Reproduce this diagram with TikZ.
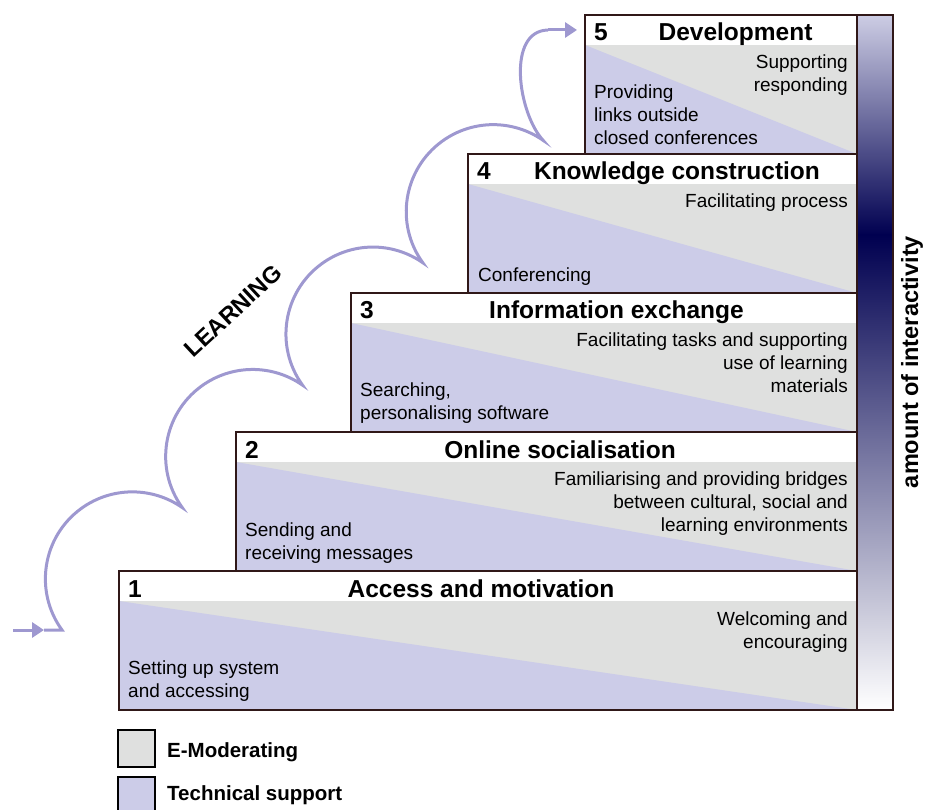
\documentclass[tikz,border=0pt]{standalone}
\usepackage{fontspec}
\setmainfont{Liberation Sans}
\usetikzlibrary{arrows.meta}
\definecolor{moder}{RGB}{223,224,223}
\definecolor{techsup}{RGB}{204,204,232}
\definecolor{frame}{RGB}{48,24,24}
\definecolor{learn}{RGB}{158,152,208}
\definecolor{bartop}{RGB}{205,205,228}
\definecolor{barmid}{RGB}{0,0,80}

\begin{document}
\begin{tikzpicture}[x=1pt,y=-1pt,
  stepframe/.style={draw=frame,line width=2pt},
  steptitle/.style={font=\bfseries\fontsize{24.5}{29}\selectfont,inner sep=0pt,anchor=base},
  stepnum/.style={font=\bfseries\fontsize{24.5}{29}\selectfont,inner sep=0pt,anchor=base west},
  righttext/.style={font=\fontsize{19}{23}\selectfont,align=right,inner sep=0pt,anchor=base east},
  lefttext/.style={font=\fontsize{19}{23}\selectfont,align=left,inner sep=0pt,anchor=base west},
  learnline/.style={draw=learn,line width=3pt},
  learntip/.style={-{Triangle[length=12pt,width=15pt]}},
  legendbox/.style={draw=black,line width=2.5pt},
  legendtext/.style={font=\bfseries\fontsize{20.5}{24}\selectfont,inner sep=0pt,anchor=base west}]
  \useasboundingbox (0,0) rectangle (929,810);

  % step 1
  \fill[moder] (119,601) rectangle (857,710);
  \fill[techsup] (119,601) -- (857,710) -- (119,710) -- cycle;
  \draw[stepframe] (119,571) rectangle (857,710);
  \node[stepnum] (n1) at (128,597) {1};
  \node[steptitle] (t1) at (481,597) {Access and motivation};
  \node[righttext] (r1) at (848,648.5) {Welcoming and\\encouraging};
  \node[lefttext] (l1) at (128,697.5) {Setting up system\\and accessing};

  % step 2
  \fill[moder] (236,462) rectangle (857,571);
  \fill[techsup] (236,462) -- (857,571) -- (236,571) -- cycle;
  \draw[stepframe] (236,432) rectangle (857,571);
  \node[stepnum] (n2) at (245,458) {2};
  \node[steptitle] (t2) at (560,458) {Online socialisation};
  \node[righttext] (r2) at (848,531.5) {Familiarising and providing bridges\\between cultural, social and\\learning environments};
  \node[lefttext] (l2) at (245,559.5) {Sending and\\receiving messages};

  % step 3
  \fill[moder] (351,323) rectangle (857,432);
  \fill[techsup] (351,323) -- (857,432) -- (351,432) -- cycle;
  \draw[stepframe] (351,293) rectangle (857,432);
  \node[stepnum] (n3) at (360,319) {3};
  \node[steptitle] (t3) at (616.5,319) {Information exchange};
  \node[righttext] (r3) at (848,392.5) {Facilitating tasks and supporting\\use of learning\\materials};
  \node[lefttext] (l3) at (360,419.5) {Searching,\\personalising software};

  % step 4
  \fill[moder] (468,184) rectangle (857,293);
  \fill[techsup] (468,184) -- (857,293) -- (468,293) -- cycle;
  \draw[stepframe] (468,154) rectangle (857,293);
  \node[stepnum] (n4) at (477,180) {4};
  \node[steptitle] (t4) at (677,180) {Knowledge construction};
  \node[righttext] (r4) at (848,207.5) {Facilitating process};
  \node[lefttext] (l4) at (478,281.5) {Conferencing};

  % step 5
  \fill[moder] (585,45) rectangle (857,154);
  \fill[techsup] (585,45) -- (857,154) -- (585,154) -- cycle;
  \draw[stepframe] (585,15) rectangle (857,154);
  \node[stepnum] (n5) at (594,41) {5};
  \node[steptitle] (t5) at (735.5,41) {Development};
  \node[righttext] (r5) at (848,91.5) {Supporting\\responding};
  \node[lefttext] (l5) at (594,144.5) {Providing\\links outside\\closed conferences};

  % amount of interactivity
  \shade[top color=bartop,bottom color=barmid] (857,15) rectangle (893,235);
  \shade[top color=barmid,bottom color=white] (857,235) rectangle (893,710);
  \draw[stepframe] (857,15) rectangle (893,710);
  \node[font=\bfseries\fontsize{23.5}{28}\selectfont,rotate=90] (amount) at (912,362) {amount of interactivity};

  % learning steps
  \coordinate (s0) at (13,630);
  \coordinate (s1) at (44,630);
  \coordinate (c0) at (62,630);
  \coordinate (e1) at (548,30);
  \coordinate (e2) at (577,30);
  \draw[learnline,learntip] (s0) -- (s1);
  \draw[learnline] (s1) -- (c0)
    arc[start angle=216,end angle=55,radius=87pt]
    arc[start angle=216,end angle=55,radius=87pt]
    arc[start angle=216,end angle=55,radius=87pt]
    arc[start angle=216,end angle=55,radius=87pt]
    .. controls +(-25,-27) and (506,31) .. (e1);
  \draw[learnline,learntip] (e1) -- (e2);
  \node[font=\bfseries\fontsize{23.5}{28}\selectfont,rotate=43] (learning) at (233,311) {LEARNING};

  % legend
  \draw[legendbox,fill=moder] (118,730) rectangle (155,767);
  \node[legendtext] (lg1) at (167,757) {E-Moderating};
  \draw[legendbox,fill=techsup] (118,777) rectangle (155,816);
  \node[legendtext] (lg2) at (167,800) {Technical support};

\end{tikzpicture}
\end{document}
